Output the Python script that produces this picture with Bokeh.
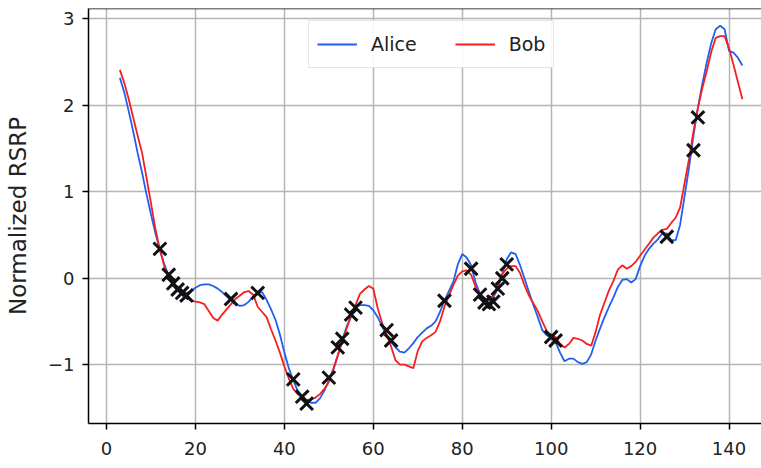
from bokeh.plotting import figure
from bokeh.models import Legend, LegendItem, Span, FixedTicker
from bokeh.embed import file_html
from bokeh.resources import INLINE

# ---- data ----
x_vals = list(range(3, 144))
alice = [2.32, 2.15, 1.93, 1.70, 1.45, 1.22, 0.97, 0.74, 0.52, 0.33,
         0.16, 0.03, -0.05, -0.12, -0.16, -0.17, -0.15, -0.11, -0.08, -0.07,
         -0.07, -0.09, -0.12, -0.16, -0.21, -0.26, -0.30, -0.32, -0.31, -0.27,
         -0.21, -0.17, -0.16, -0.25, -0.36, -0.48, -0.65, -0.86, -1.04, -1.18,
         -1.30, -1.37, -1.42, -1.44, -1.44, -1.39, -1.30, -1.18, -1.05, -0.89,
         -0.72, -0.56, -0.44, -0.33, -0.31, -0.31, -0.32, -0.37, -0.45, -0.56,
         -0.66, -0.74, -0.80, -0.85, -0.86, -0.81, -0.75, -0.68, -0.63, -0.58,
         -0.55, -0.50, -0.39, -0.26, -0.15, -0.04, 0.16, 0.28, 0.24, 0.15,
         -0.05, -0.18, -0.23, -0.26, -0.22, -0.12, 0.05, 0.22, 0.30, 0.28,
         0.15, 0.00, -0.16, -0.31, -0.45, -0.60, -0.66, -0.69, -0.74, -0.86,
         -0.96, -0.93, -0.93, -0.97, -0.99, -0.97, -0.88, -0.72, -0.58, -0.45,
         -0.33, -0.22, -0.10, -0.02, -0.01, -0.05, -0.01, 0.14, 0.26, 0.34,
         0.40, 0.45, 0.52, 0.52, 0.44, 0.44, 0.62, 0.95, 1.28, 1.65,
         1.97, 2.25, 2.50, 2.72, 2.88, 2.92, 2.88, 2.63, 2.61, 2.55,
         2.46]
bob = [2.41, 2.26, 2.07, 1.86, 1.65, 1.45, 1.16, 0.87, 0.57, 0.33,
       0.14, 0.00, -0.07, -0.10, -0.15, -0.22, -0.26, -0.27, -0.28, -0.30,
       -0.38, -0.46, -0.49, -0.42, -0.36, -0.30, -0.24, -0.20, -0.16, -0.15,
       -0.19, -0.33, -0.39, -0.45, -0.59, -0.72, -0.86, -1.02, -1.16, -1.28,
       -1.34, -1.38, -1.41, -1.40, -1.38, -1.34, -1.28, -1.20, -1.06, -0.90,
       -0.73, -0.58, -0.44, -0.31, -0.18, -0.13, -0.09, -0.12, -0.35, -0.52,
       -0.65, -0.79, -0.95, -1.00, -1.00, -1.02, -1.04, -0.84, -0.73, -0.69,
       -0.66, -0.62, -0.50, -0.33, -0.20, -0.08, 0.03, 0.08, 0.09, 0.04,
       -0.10, -0.20, -0.24, -0.25, -0.20, -0.08, 0.05, 0.11, 0.14, 0.14,
       0.06, -0.08, -0.20, -0.29, -0.38, -0.50, -0.61, -0.66, -0.68, -0.76,
       -0.80, -0.76, -0.69, -0.70, -0.72, -0.76, -0.78, -0.62, -0.42, -0.28,
       -0.14, -0.03, 0.10, 0.15, 0.11, 0.14, 0.19, 0.26, 0.33, 0.40,
       0.47, 0.52, 0.56, 0.57, 0.64, 0.70, 0.82, 1.10, 1.38, 1.70,
       1.97, 2.20, 2.40, 2.62, 2.78, 2.80, 2.80, 2.66, 2.47, 2.27,
       2.07]
marker_x = [12, 14, 15, 16, 17, 18, 28, 34, 42, 44, 45, 50, 52, 53, 55, 56,
            63, 64, 76, 82, 84, 85, 86, 87, 88, 89, 90, 100, 101, 126, 132, 133]
marker_y = [0.34, 0.04, -0.06, -0.13, -0.17, -0.20, -0.24, -0.17, -1.17, -1.37,
            -1.45, -1.15, -0.80, -0.70, -0.42, -0.34, -0.60, -0.72, -0.26, 0.11,
            -0.19, -0.28, -0.30, -0.27, -0.12, 0.00, 0.16, -0.68, -0.72, 0.48,
            1.48, 1.86]
x_ticks = [0, 20, 40, 60, 80, 100, 120, 140]
y_ticks = [-1, 0, 1, 2, 3]
series_names = ["Alice", "Bob"]

FONT = "DejaVu Sans"
Y_END = 3.12

p = figure(width=761, height=468, output_backend="svg", toolbar_location=None,
           x_range=(-4.05, 147.3), y_range=(-1.68, Y_END),
           min_border_left=88, min_border_right=0, min_border_top=8,
           min_border_bottom=45)
p.outline_line_color = None
p.background_fill_color = "white"
p.border_fill_color = "white"

# grid
for g in (p.xgrid, p.ygrid):
    g.grid_line_color = "#b5b5b5"
    g.grid_line_width = 1.5
p.xaxis.ticker = FixedTicker(ticks=x_ticks)
p.yaxis.ticker = FixedTicker(ticks=y_ticks)

for ax in (p.xaxis, p.yaxis):
    ax.axis_line_color = "black"
    ax.axis_line_width = 1.5
    ax.major_tick_line_color = "black"
    ax.major_tick_line_width = 1.5
    ax.major_tick_out = 6
    ax.major_tick_in = 0
    ax.minor_tick_line_color = None
    ax.major_label_text_font = FONT
    ax.major_label_text_font_size = "18px"
    ax.major_label_text_color = "#222222"

p.xaxis.major_label_standoff = 12
p.yaxis.major_label_standoff = 8
p.yaxis.major_label_overrides = {-1: "\u22121"}
p.yaxis.axis_label = "Normalized RSRP"
p.yaxis.axis_label_text_font = FONT
p.yaxis.axis_label_text_font_size = "23px"
p.yaxis.axis_label_text_font_style = "normal"
p.yaxis.axis_label_text_color = "#222222"
p.yaxis.axis_label_standoff = 14

# top spine
p.add_layout(Span(location=Y_END, dimension="width", line_color="black", line_width=1.5))

r_alice = p.line(x_vals, alice, line_color="#1f5ff2", line_width=1.8)
r_bob = p.line(x_vals, bob, line_color="#f51f1f", line_width=1.8)
p.scatter(marker_x, marker_y, marker="x", size=18, line_color="#111111", line_width=3)

legend = Legend(items=[LegendItem(label=series_names[0], renderers=[r_alice]),
                       LegendItem(label=series_names[1], renderers=[r_bob])],
                orientation="horizontal", location=(220, 355),
                label_text_font=FONT, label_text_font_size="19px",
                label_text_color="#222222",
                glyph_width=40, glyph_height=30, label_height=30,
                label_standoff=14, spacing=38, padding=8, margin=0,
                border_line_color="#cccccc", border_line_width=1.2,
                background_fill_alpha=0.9)
p.add_layout(legend)

open("out.html", "w").write(file_html(p, INLINE))
